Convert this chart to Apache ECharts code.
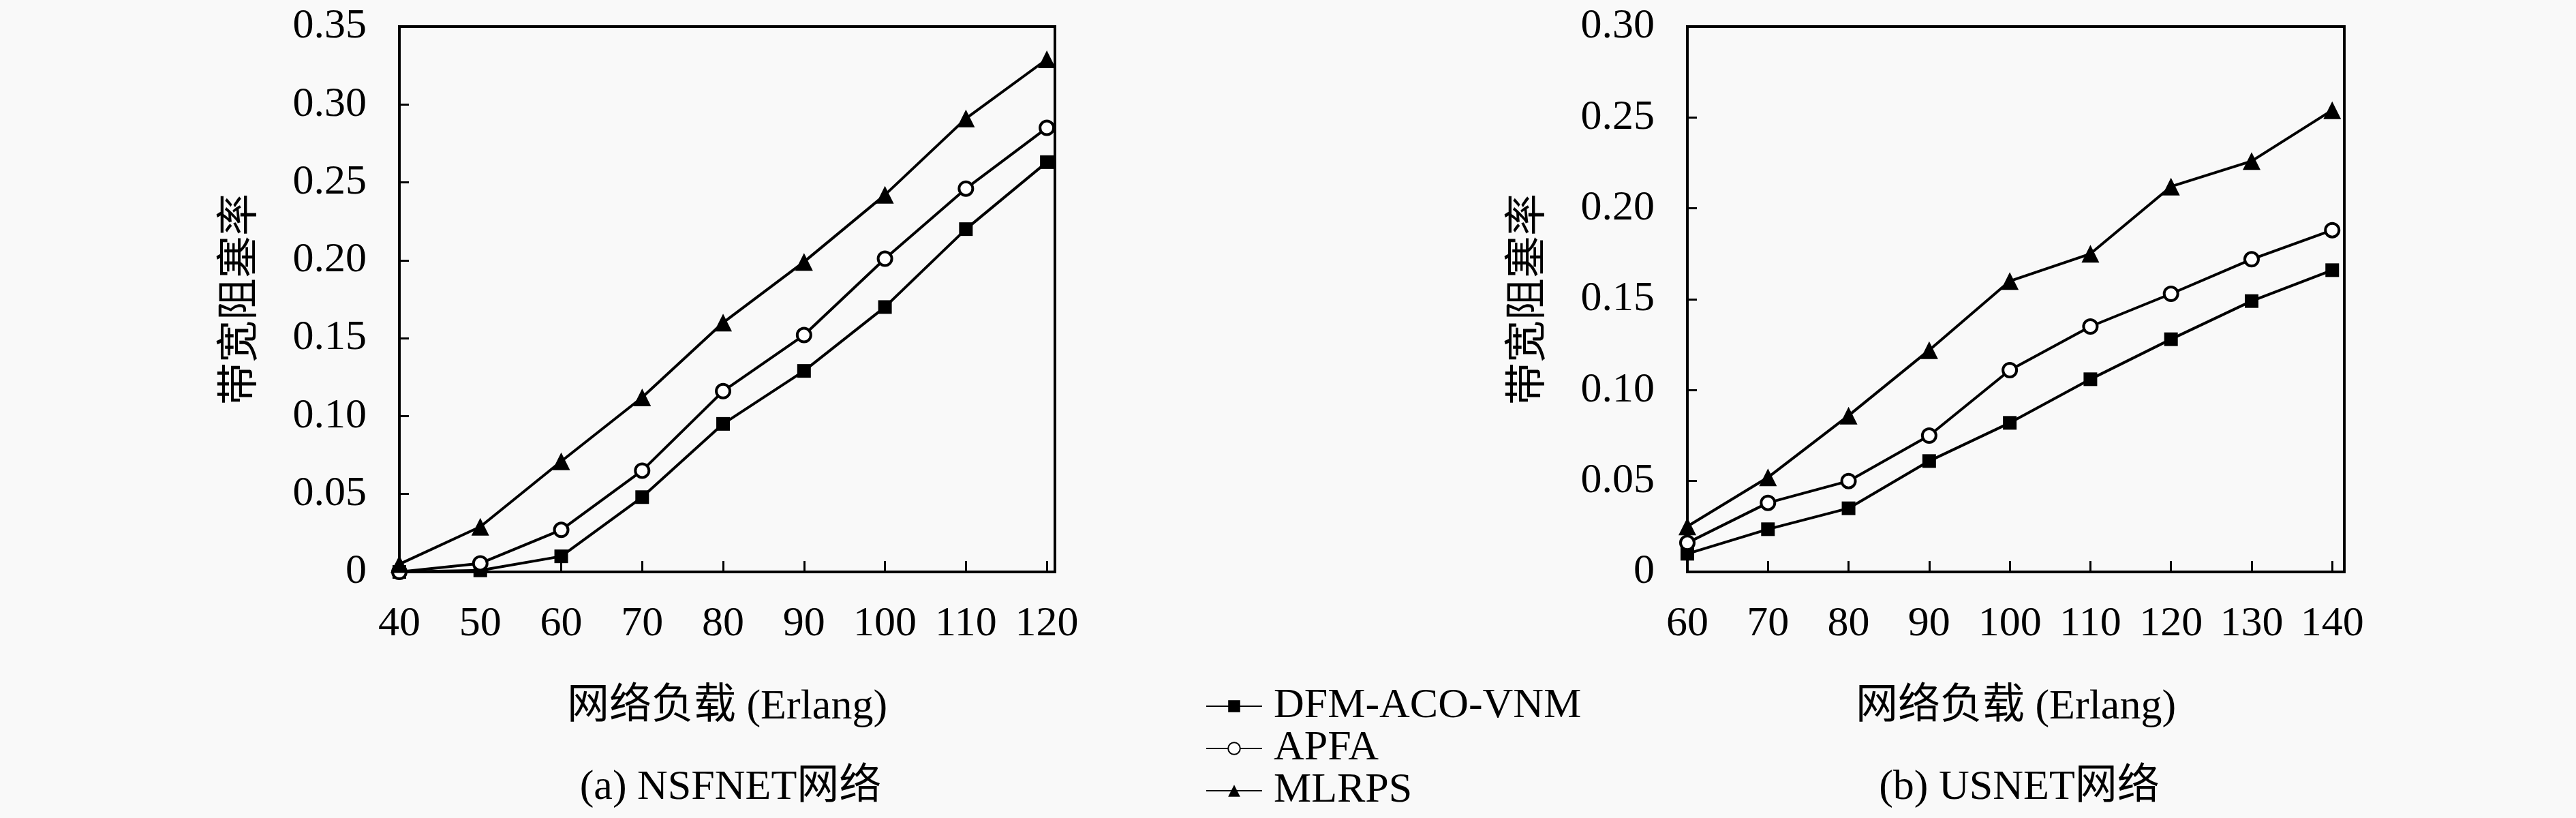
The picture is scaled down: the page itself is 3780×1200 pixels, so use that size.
<!DOCTYPE html>
<html>
<head>
<meta charset="utf-8">
<script src="https://cdn.jsdelivr.net/npm/echarts@6/dist/echarts.min.js"></script>
<style>
  html, body { margin: 0; padding: 0; background: #f9f9f9; }
  #chart { width: 3780px; height: 1200px; }
</style>
</head>
<body>
<div id="chart"></div>
<script>
// 图(a) NSFNET / 图(b) USNET 的数据
var loadA = [40, 50, 60, 70, 80, 90, 100, 110, 120];
var loadB = [60, 70, 80, 90, 100, 110, 120, 130, 140];
var seriesNames = ['DFM-ACO-VNM', 'APFA', 'MLRPS'];
var dfmA   = [0, 0.001, 0.010, 0.048, 0.095, 0.129, 0.170, 0.220, 0.263];
var apfaA  = [0, 0.0055, 0.027, 0.065, 0.116, 0.152, 0.201, 0.246, 0.285];
var mlrpsA = [0.005, 0.029, 0.071, 0.112, 0.160, 0.199, 0.242, 0.291, 0.329];
var dfmB   = [0.010, 0.0235, 0.035, 0.061, 0.082, 0.106, 0.128, 0.149, 0.166];
var apfaB  = [0.016, 0.038, 0.050, 0.075, 0.111, 0.135, 0.153, 0.172, 0.188];
var mlrpsB = [0.025, 0.052, 0.086, 0.122, 0.160, 0.175, 0.212, 0.226, 0.254];

var serif = '"Liberation Serif", "Noto Sans CJK SC", serif';
var fs = 62;
var symbols = ['rect', 'circle', 'triangle'];
var symbolSizes = [20, 20, 26];

function pairs(xs, ys) {
	var out = [];
	for (var i = 0; i < xs.length; i++) { out.push([xs[i], ys[i]]); }
	return out;
}

function xAxisOf(idx, min, max) {
	return {
		type: 'value', gridIndex: idx, min: min, max: max, interval: 10,
		axisLine: { show: true, onZero: false, lineStyle: { color: '#000', width: 4 } },
		axisTick: { show: true, inside: true, length: 16, lineStyle: { color: '#000', width: 3 } },
		axisLabel: {
			color: '#000', fontFamily: serif, fontSize: fs, margin: 46,
			formatter: function (v) { return v % 10 !== 0 ? '' : String(v); }
		},
		splitLine: { show: false },
		name: '网络负载 (Erlang)', nameLocation: 'middle', nameGap: 168,
		nameTextStyle: { color: '#000', fontFamily: serif, fontSize: fs }
	};
}

function yAxisOf(idx, max) {
	return {
		type: 'value', gridIndex: idx, min: 0, max: max, interval: 0.05,
		axisLine: { show: true, lineStyle: { color: '#000', width: 4 } },
		axisTick: { show: true, inside: true, length: 14, lineStyle: { color: '#000', width: 3 } },
		axisLabel: {
			color: '#000', fontFamily: serif, fontSize: fs, margin: 48,
			formatter: function (v) { return v === 0 ? '0' : v.toFixed(2); }
		},
		splitLine: { show: false },
		name: '带宽阻塞率', nameLocation: 'middle', nameGap: 200, nameRotate: 90,
		nameTextStyle: { color: '#000', fontFamily: serif, fontSize: fs }
	};
}

function lineSeries(i, xi, data) {
	return {
		name: seriesNames[i], type: 'line', xAxisIndex: xi, yAxisIndex: xi,
		data: data, symbol: symbols[i], symbolSize: symbolSizes[i],
		showAllSymbol: true, animation: false,
		lineStyle: { color: '#000', width: 4 },
		itemStyle: { color: i === 1 ? '#fff' : '#000', borderColor: '#000', borderWidth: i === 1 ? 4 : 0, opacity: 1 }
	};
}

var myChart = echarts.init(document.getElementById('chart'));
var option = {
	backgroundColor: '#f9f9f9',
	animation: false,
	title: [
		{ text: '(a) NSFNET网络', left: 1067, top: 1120, textAlign: 'center',
		  textStyle: { color: '#000', fontFamily: serif, fontSize: fs, fontWeight: 'normal' } },
		{ text: '(b) USNET网络', left: 2958, top: 1120, textAlign: 'center',
		  textStyle: { color: '#000', fontFamily: serif, fontSize: fs, fontWeight: 'normal' } }
	],
	legend: {
		orient: 'vertical', left: 1764, top: 1000, itemGap: 0,
		itemWidth: 82, itemHeight: 22,
		data: seriesNames,
		textStyle: { color: '#000', fontFamily: serif, fontSize: fs, lineHeight: 62, padding: [0, 0, 0, 12] }
	},
	grid: [
		{ left: 586, top: 39, width: 962, height: 800, show: true, borderColor: '#000', borderWidth: 4, backgroundColor: 'transparent' },
		{ left: 2476, top: 39, width: 964, height: 800, show: true, borderColor: '#000', borderWidth: 4, backgroundColor: 'transparent' }
	],
	xAxis: [xAxisOf(0, 40, 121), xAxisOf(1, 60, 141.5)],
	yAxis: [yAxisOf(0, 0.35), yAxisOf(1, 0.30)],
	series: [
		lineSeries(0, 0, pairs(loadA, dfmA)),
		lineSeries(1, 0, pairs(loadA, apfaA)),
		lineSeries(2, 0, pairs(loadA, mlrpsA)),
		lineSeries(0, 1, pairs(loadB, dfmB)),
		lineSeries(1, 1, pairs(loadB, apfaB)),
		lineSeries(2, 1, pairs(loadB, mlrpsB))
	]
};
myChart.setOption(option);
</script>
</body>
</html>
